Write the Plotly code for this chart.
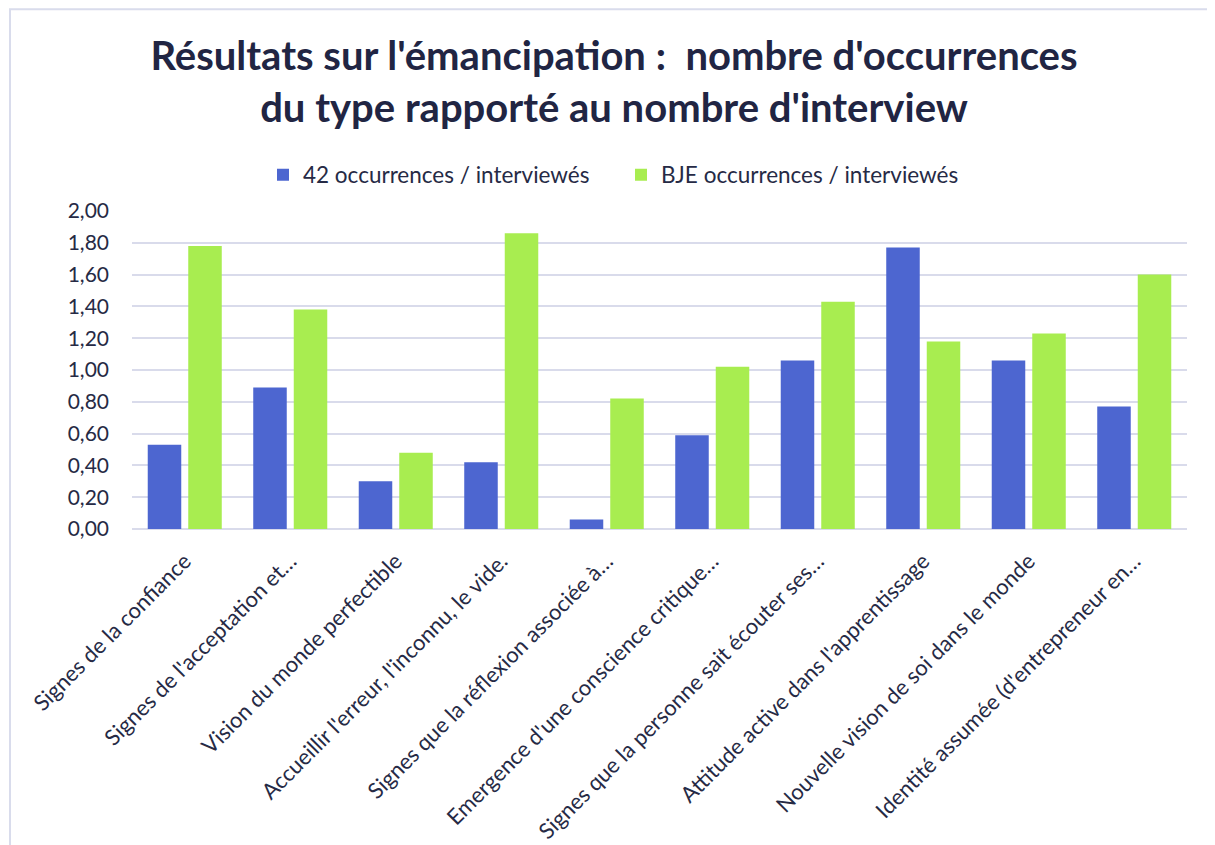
import plotly.graph_objects as go

# Catégories (libellés tronqués comme dans l'original)
categories = [
    "Signes de la confiance",
    "Signes de l'acceptation et…",
    "Vision du monde perfectible",
    "Accueillir l'erreur, l'inconnu, le vide.",
    "Signes que la réflexion associée à…",
    "Emergence d'une conscience critique…",
    "Signes que la personne sait écouter ses…",
    "Attitude active dans l'apprentissage",
    "Nouvelle vision de soi dans le monde",
    "Identité assumée (d'entrepreneur en…",
]

series_42 = [0.53, 0.89, 0.30, 0.42, 0.06, 0.59, 1.06, 1.77, 1.06, 0.77]
series_bje = [1.78, 1.38, 0.48, 1.86, 0.82, 1.02, 1.43, 1.18, 1.23, 1.60]

name_42 = "42 occurrences / interviewés"
name_bje = "BJE occurrences / interviewés"

y_ticks = [0, 0.2, 0.4, 0.6, 0.8, 1.0, 1.2, 1.4, 1.6, 1.8, 2.0]

TXT = "#262a45"
GRID = "#d9dbeb"
FONT = "Lato"

# la page html décale la figure de 8 px (marge du body)
OFF = 8
W, H = 1215, 845
ml = 132 - OFF
mt = 211 - OFF
mr = W - (1187 - OFF)
mb = H - (529.5 - OFF)

fig = go.Figure()

fig.add_trace(go.Bar(
    x=categories, y=series_42, name=name_42,
    marker=dict(color="#4d66d0", line=dict(width=0)),
))
fig.add_trace(go.Bar(
    x=categories, y=series_bje, name=name_bje,
    marker=dict(color="#a8ed50", line=dict(width=0)),
))

# cadre gris clair autour du graphique
pw, ph = W - ml - mr, H - mt - mb
fig.add_shape(
    type="rect", xref="paper", yref="paper",
    x0=(2 - ml) / pw, x1=(W + 20 - ml) / pw,
    y0=(H - mb - (H + 20)) / ph, y1=(H - mb - 1) / ph,
    line=dict(color="#d9dcec", width=2), fillcolor="rgba(0,0,0,0)",
    layer="below",
)

fig.update_layout(
    width=W, height=H,
    margin=dict(l=ml, r=mr, t=mt, b=mb, autoexpand=False),
    paper_bgcolor="white", plot_bgcolor="white",
    separators=", ",
    barmode="group", bargap=0.232, bargroupgap=0.173,
    font=dict(family=FONT, color=TXT),
    title=dict(
        text="<b>Résultats sur l'émancipation :  nombre d'occurrences<br>du type rapporté au nombre d'interview</b>",
        x=(614 - OFF) / W, xanchor="center", xref="container",
        y=1 - 62 / H, yanchor="middle", yref="container",
        font=dict(family=FONT, size=40, color="#212543"),
    ),
    legend=dict(
        orientation="h", x=(621 - OFF - ml) / pw, xanchor="center",
        y=(H - mb - (175 - OFF)) / ph, yanchor="middle",
        font=dict(family=FONT, size=22.5, color=TXT),
        entrywidth=353 - 40, entrywidthmode="pixels",
        itemwidth=30, bgcolor="rgba(0,0,0,0)",
    ),
    xaxis=dict(
        tickangle=-45, tickfont=dict(family=FONT, size=22, color=TXT),
        showgrid=False, showline=False, ticks="",
        ticklabelstandoff=14, automargin=False,
    ),
    yaxis=dict(
        range=[0, 2.0], tickvals=y_ticks, tickformat=".2f",
        tickfont=dict(family=FONT, size=21, color=TXT),
        showgrid=True, gridcolor=GRID, gridwidth=2,
        zeroline=True, zerolinecolor=GRID, zerolinewidth=2,
        showline=False, ticks="", ticklabelstandoff=22,
        automargin=False,
    ),
)

fig.write_html("out.html")
